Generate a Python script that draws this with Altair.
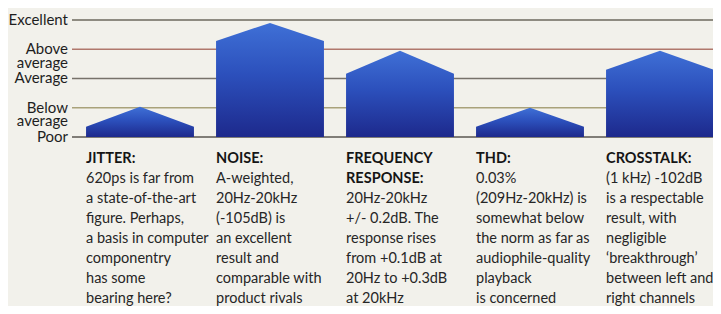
import altair as alt
import pandas as pd

# ---- data ----
level_labels = ["Poor", "Below\naverage", "Average", "Above\naverage", "Excellent"]
level_values = [0, 1, 2, 3, 4]
level_colors = ["#5a5650", "#a9a27a", "#77726a", "#b0786c", "#6c685e"]

titles = ["JITTER:", "NOISE:", "FREQUENCY\nRESPONSE:", "THD:", "CROSSTALK:"]
peaks = [1.03, 3.9, 2.95, 1.0, 2.95]
shoulders = [0.35, 3.28, 2.16, 0.35, 2.3]
descriptions = [
    "620ps is far from\na state-of-the-art\nfigure. Perhaps,\na basis in computer\ncomponentry\nhas some\nbearing here?",
    "A-weighted,\n20Hz-20kHz\n(-105dB) is\nan excellent\nresult and\ncomparable with\nproduct rivals",
    "20Hz-20kHz\n+/- 0.2dB. The\nresponse rises\nfrom +0.1dB at\n20Hz to +0.3dB\nat 20kHz",
    "0.03%\n(209Hz-20kHz) is\nsomewhat below\nthe norm as far as\naudiophile-quality\nplayback\nis concerned",
    "(1 kHz) -102dB\nis a respectable\nresult, with\nnegligible\n\u2018breakthrough\u2019\nbetween left and\nright channels",
]

HALF = 0.415  # half bar width in category units
FONT = "Lato, Roboto, sans-serif"
W, H = 705, 298
LH = 20
TITLE_Y = 154.5
FS = 14.5

# ---- tables ----
shape_rows = []
for i, (pk, sh) in enumerate(zip(peaks, shoulders)):
    shape_rows += [
        {"bar": i, "x": i - HALF, "y": sh},
        {"bar": i, "x": i, "y": pk},
        {"bar": i, "x": i + HALF, "y": sh},
    ]
shapes = pd.DataFrame(shape_rows)

levels = pd.DataFrame({"value": level_values, "label": level_labels})

texts = pd.DataFrame({
    "left": [i - HALF for i in range(len(titles))],
    "title": titles,
    "tl": [t.count("\n") + 1 for t in titles],
    "body": descriptions,
})

xscale = alt.Scale(domain=[-1.0154, 4.4077], nice=False, zero=False)
yscale = alt.Scale(domain=[-5.778, 4.410], nice=False, zero=False)

gradient = alt.LinearGradient(
    gradient="linear", x1=0, y1=0, x2=0, y2=1,
    stops=[
        alt.GradientStop(offset=0, color="#3f70d6"),
        alt.GradientStop(offset=0.45, color="#2c50bc"),
        alt.GradientStop(offset=1, color="#1d298c"),
    ],
)

rules = alt.Chart(levels).mark_rule(strokeWidth=1.6).encode(
    y=alt.Y("value:Q", scale=yscale, axis=None),
    x=alt.value(64),
    x2=alt.value(W),
    color=alt.Color("value:O", scale=alt.Scale(domain=level_values, range=level_colors), legend=None),
)

ylabels = alt.Chart(levels).mark_text(
    align="right", baseline="middle", lineBreak="\n", lineHeight=13.5,
    fontSize=15, font=FONT, color="#1e1e1e",
).encode(
    y=alt.Y("value:Q", scale=yscale, axis=None),
    x=alt.value(60),
    text="label:N",
)

bars = alt.Chart(shapes).mark_area(color=gradient, interpolate="linear").encode(
    x=alt.X("x:Q", scale=xscale, axis=None),
    y=alt.Y("y:Q", scale=yscale, axis=None),
    y2=alt.datum(0),
    detail="bar:N",
)

title_text = alt.Chart(texts).mark_text(
    align="left", baseline="alphabetic", lineBreak="\n", lineHeight=LH,
    fontSize=FS, font=FONT, fontWeight="bold", color="#151515", dx=0,
).encode(
    x=alt.X("left:Q", scale=xscale, axis=None),
    y=alt.value(TITLE_Y),
    text="title:N",
)

body_base = alt.Chart(texts).mark_text(
    align="left", baseline="alphabetic", lineBreak="\n", lineHeight=LH,
    fontSize=FS, font=FONT, color="#262626", dx=0,
)
body_one = body_base.transform_filter("datum.tl == 1").encode(
    x=alt.X("left:Q", scale=xscale, axis=None),
    y=alt.value(TITLE_Y + LH),
    text="body:N",
)
body_two = body_base.transform_filter("datum.tl == 2").encode(
    x=alt.X("left:Q", scale=xscale, axis=None),
    y=alt.value(TITLE_Y + 2 * LH),
    text="body:N",
)

chart = alt.layer(rules, bars, ylabels, title_text, body_one, body_two).properties(
    width=W, height=H,
    autosize=alt.AutoSizeParams(type="none"),
    padding=0,
    background="#f2f1eb",
).configure_view(stroke=None)

chart.save("out.html", embed_options={"renderer": "svg", "actions": False})
